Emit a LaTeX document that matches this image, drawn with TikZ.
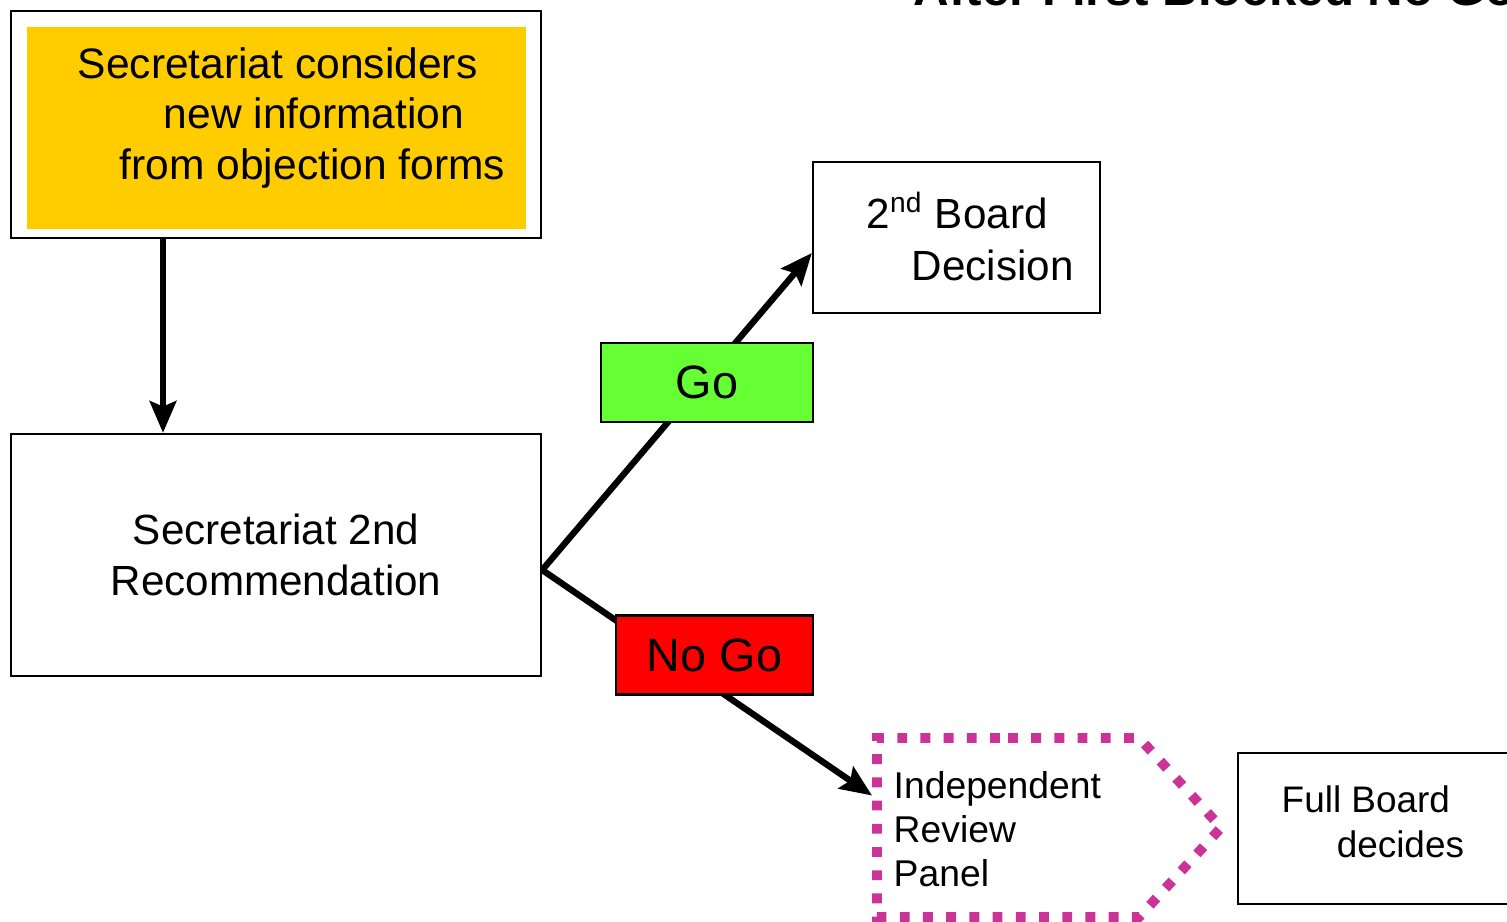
\documentclass[tikz,border=0pt]{standalone}
\usepackage{fontspec}
\setmainfont{Liberation Sans}
\usetikzlibrary{arrows.meta, shapes.symbols, calc}
\usetikzlibrary{positioning}

\definecolor{boxyellow}{HTML}{FFCC00}
\definecolor{gogreen}{HTML}{66FF33}
\definecolor{panelpink}{HTML}{CC3399}

\begin{document}
\begin{tikzpicture}[x=0.01cm, y=-0.01cm,
    plainbox/.style={draw, line width=0.6pt, inner sep=0pt},
    txt/.style={inner sep=0pt, align=left, anchor=west},
    flow/.style={line width=1.8pt, -{Stealth[length=9pt, width=7.5pt, inset=1.5pt]}},
    choice/.style={draw, line width=0.8pt, inner sep=0pt, minimum height=0.79cm, font=\fontsize{13.3}{16}\selectfont}]
    \useasboundingbox (0,0) rectangle (1507,922);
    \node[anchor=base west, inner sep=0pt, font=\fontsize{14}{17}\selectfont\bfseries] at (913,6) (title) {After First Blocked No Go};
    % boxes
    \node[plainbox, minimum width=5.3cm, minimum height=2.27cm] at (276,124.5) (top) {};
    \node[fill=boxyellow, inner sep=0pt, minimum width=4.99cm, minimum height=2.02cm] at (276.5,128) (topfill) {};
    \node[txt, font=\fontsize{12.1}{14.5}\selectfont] at (77,118) (toptext) {Secretariat considers\\\hspace*{0.86cm}new information\\\hspace*{0.42cm}from objection forms};
    \node[plainbox, minimum width=5.3cm, minimum height=2.42cm, align=center, font=\fontsize{12}{14.5}\selectfont] at (276,555) (sec) {Secretariat 2nd\\Recommendation};
    \node[plainbox, minimum width=2.87cm, minimum height=1.51cm] at (956.5,237.5) (board) {};
    \node[txt, font=\fontsize{12}{14.8}\selectfont] at (866,236.5) (boardtext) {2\textsuperscript{nd} Board\\\hspace*{0.45cm}Decision};
    \node[plainbox, minimum width=3.3cm, minimum height=1.51cm, anchor=north west] at (1237,752) (full) {};
    \node[txt, font=\fontsize{10.5}{12.8}\selectfont] at (1281,822) (fulltext) {Full Board\\\hspace*{0.55cm}decides};
    \node[signal, signal to=east, signal pointer angle=95, draw=panelpink, line width=2.8pt, dash pattern=on 2.8pt off 3.8pt, minimum width=3.44cm, minimum height=1.79cm, inner sep=0pt] at (1008,827.5) (panel) {};
    \node[txt, font=\fontsize{10.6}{12.5}\selectfont] at (893,829) (paneltext) {Independent\\Review\\Panel};
    % arrows
    \coordinate (split) at ($(sec.east)+(0,15)$);
    \draw[flow] ($(top.south)+(-113,0)$) -- ($(sec.north)+(-113,0)$);
    \draw[flow] (split) -- ($(board.west)+(0,15.5)$);
    \draw[flow] (split) -- ($(panel.west)+(0,-32)$);
    % labels on the arrows
    \node[choice, fill=gogreen, minimum width=2.12cm] at (707,382.5) (go) {Go};
    \node[choice, fill=red, minimum width=1.97cm] at (714.5,655) (nogo) {No Go};
\end{tikzpicture}
\end{document}
